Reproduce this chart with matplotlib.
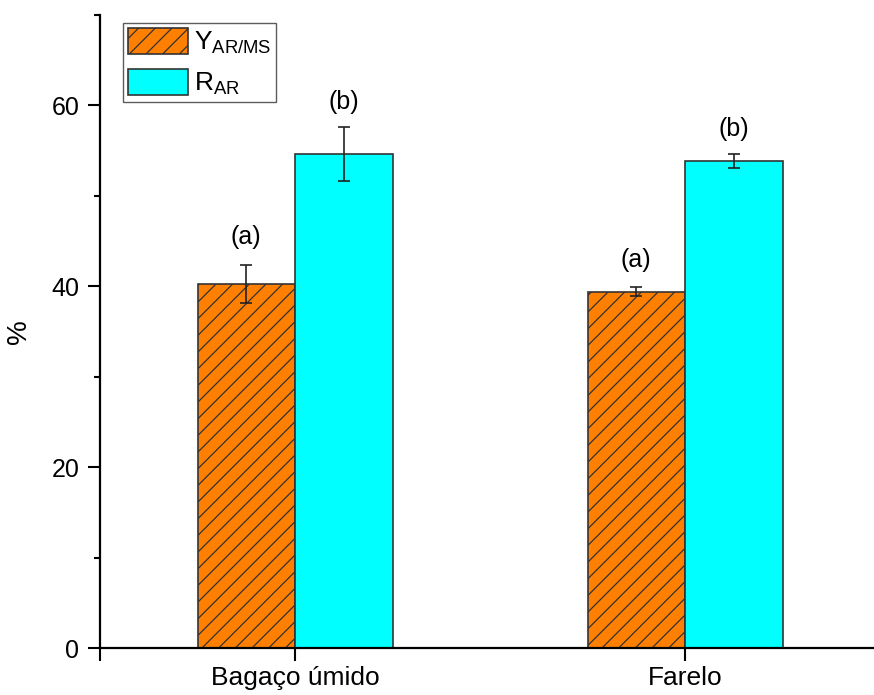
import numpy as np
import matplotlib
matplotlib.use("Agg")
import matplotlib.pyplot as plt

plt.rcParams['font.family'] = ['Liberation Sans', 'DejaVu Sans']
plt.rcParams['mathtext.default'] = 'regular'
plt.rcParams['hatch.linewidth'] = 0.9

categories = ['Bagaço úmido', 'Farelo']
y_ar_ms = [40.25, 39.4]
y_ar_ms_err = [2.15, 0.5]
r_ar = [54.6, 53.85]
r_ar_err = [3.0, 0.8]
y_letters = ['(a)', '(a)']
r_letters = ['(b)', '(b)']

x = np.arange(1, len(categories) + 1)
width = 0.25

fig = plt.figure(figsize=(8.74, 6.95), dpi=100)
ax = fig.add_axes([100 / 874, 47 / 695, 780 / 874, 633 / 695])

ax.bar(x - width / 2, y_ar_ms, width, color='#FF8000', edgecolor='#333333',
       linewidth=1.2, hatch='//', label=r'Y$_{AR/MS}$')
ax.bar(x + width / 2, r_ar, width, color='#00FFFF', edgecolor='#333333',
       linewidth=1.2, label=r'R$_{AR}$')

ax.errorbar(x - width / 2, y_ar_ms, yerr=y_ar_ms_err, fmt='none', ecolor='#222222',
            elinewidth=1.2, capsize=4.3, capthick=1.2)
ax.errorbar(x + width / 2, r_ar, yerr=r_ar_err, fmt='none', ecolor='#222222',
            elinewidth=1.2, capsize=4.3, capthick=1.2)

# significance letters above the error bars
for xi, v, e, t in zip(x - width / 2, y_ar_ms, y_ar_ms_err, y_letters):
    ax.annotate(t, (xi, v + e), xytext=(0, 19.5), textcoords='offset points',
                ha='center', va='center', fontsize=18)
for xi, v, e, t in zip(x + width / 2, r_ar, r_ar_err, r_letters):
    ax.annotate(t, (xi, v + e), xytext=(0, 18), textcoords='offset points',
                ha='center', va='center', fontsize=18)

ax.set_xlim(0.5, 2.5)
ax.set_ylim(0, 70)
ax.set_xticks(x)
ax.set_xticklabels(categories, fontsize=19)
ax.set_xticks([0.5], minor=True)
ax.set_yticks([0, 20, 40, 60])
ax.set_yticks([10, 30, 50, 70], minor=True)
ax.tick_params(axis='both', which='major', direction='out', length=9, width=1.5,
               labelsize=18, pad=6)
ax.tick_params(axis='x', which='major', labelsize=19, pad=4)
ax.tick_params(axis='y', which='minor', direction='out', length=4.5, width=1.5)
ax.tick_params(axis='x', which='minor', direction='out', length=9, width=1.5)
ax.set_ylabel('%', fontsize=20, labelpad=14)

for s in ['top', 'right']:
    ax.spines[s].set_visible(False)
for s in ['left', 'bottom']:
    ax.spines[s].set_linewidth(1.6)

leg = ax.legend(loc='upper left', bbox_to_anchor=(23 / 780, 1 - 8 / 633),
                fontsize=19, frameon=True, fancybox=False, edgecolor='#333333',
                handlelength=2.3, handleheight=1.15, borderpad=0.18,
                labelspacing=0.5, handletextpad=0.2, borderaxespad=0)
leg.get_frame().set_linewidth(1.0)

fig.savefig('out.png', dpi=100)
